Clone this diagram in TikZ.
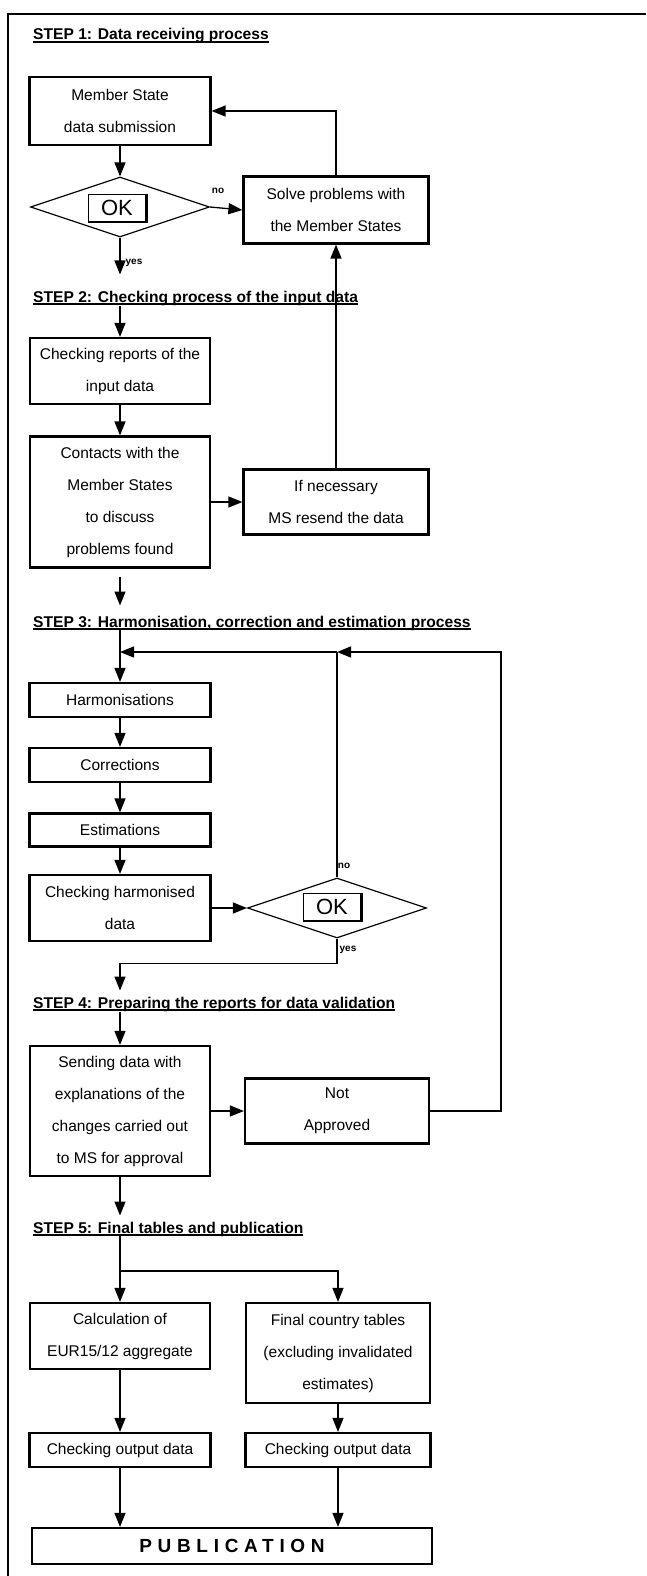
\documentclass[tikz,border=0pt]{standalone}
\usepackage{fontspec}
\setmainfont{Liberation Sans}
\newfontfamily\pubfont[LetterSpace=30]{Liberation Sans}
\usetikzlibrary{shapes.geometric,arrows.meta}
\newsavebox{\hdrbox}
\newcommand{\hdrul}[1]{\sbox{\hdrbox}{#1}\rlap{\usebox{\hdrbox}}\rule[-3pt]{\wd\hdrbox}{1.6pt}}
\begin{document}
\begin{tikzpicture}[x=1pt,y=-1pt,
    box/.style={draw, line width=2.2pt, align=center, inner sep=2pt,
      font=\fontsize{15.5}{32}\selectfont},
    okdia/.style={diamond, draw, line width=1.2pt, minimum width=179pt,
      minimum height=60pt, inner sep=0pt},
    okbtn/.style={draw, line width=1pt, minimum width=58pt, minimum height=27pt,
      inner sep=0pt, font=\fontsize{22}{22}\selectfont},
    hdr/.style={anchor=base west, inner sep=0pt,
      font=\bfseries\fontsize{15.6}{18}\selectfont},
    lbl/.style={inner sep=0pt, font=\bfseries\fontsize{10}{12}\selectfont},
    arr/.style={line width=1.3pt, -{Triangle[width=11pt,length=14pt]}}]
    \useasboundingbox (0,0) rectangle (646,1576);

    % Frame
    \draw[line width=2pt] (8,1576) -- (8,14) -- (646,14);

    % STEP 1
    \node[hdr] (h1) at (33,40) {\hdrul{STEP 1: Data receiving process}};
    \node[box, minimum width=181pt, minimum height=68pt] (msd) at (120,111) {Member State\\data submission};
    \node[okdia] (ok1) at (120,207) {};
    \node[okbtn] (okb1) at (117,208) {OK};
    \draw[line width=2.6pt] (okb1.north east) -- (okb1.south east) -- (okb1.south west);
    \node[box, minimum width=185pt, minimum height=67pt] (solve) at (336,210) {Solve problems with\\the Member States};
    \node[lbl] (no1) at (218,191) {no};
    \node[lbl] (yes1) at (134,263) {yes};

    % STEP 2
    \node[hdr] (h2) at (33,302) {\hdrul{STEP 2: Checking process of the input data}};
    \node[box, minimum width=180pt, minimum height=66pt] (chk) at (120,371) {Checking reports of the\\input data};
    \node[box, minimum width=180pt, minimum height=131pt] (contact) at (120,502) {Contacts with the\\Member States\\to discuss\\problems found};
    \node[box, minimum width=185pt, minimum height=65pt] (resend) at (336,502) {If necessary\\MS resend the data};

    % STEP 3
    \node[hdr] (h3) at (33,627) {\hdrul{STEP 3: Harmonisation, correction and estimation process}};
    \node[box, minimum width=181pt, minimum height=34pt] (harm) at (120,700) {Harmonisations};
    \node[box, minimum width=181pt, minimum height=34pt] (corr) at (120,765) {Corrections};
    \node[box, minimum width=181pt, minimum height=33pt] (est) at (120,830) {Estimations};
    \node[box, minimum width=181pt, minimum height=66pt] (chkh) at (120,908) {Checking harmonised\\data};
    \node[okdia] (ok2) at (337,908) {};
    \node[okbtn] (okb2) at (332,907) {OK};
    \draw[line width=2.6pt] (okb2.north east) -- (okb2.south east) -- (okb2.south west);
    \node[lbl] (no2) at (344,866) {no};
    \node[lbl] (yes2) at (348,950) {yes};
    \coordinate (jn1) at (120,652);
    \coordinate (jn2) at (337,652);

    % STEP 4
    \node[hdr] (h4) at (33,1008) {\hdrul{STEP 4: Preparing the reports for data validation}};
    \node[box, minimum width=180pt, minimum height=130pt] (send) at (120,1111) {Sending data with\\explanations of the\\changes carried out\\to MS for approval};
    \node[box, minimum width=184pt, minimum height=65pt] (notapp) at (337,1111) {Not\\Approved};

    % STEP 5
    \node[hdr] (h5) at (33,1233) {\hdrul{STEP 5: Final tables and publication}};
    \coordinate (sp) at (120,1271);
    \node[box, minimum width=180pt, minimum height=66pt] (calc) at (120,1336) {Calculation of\\EUR15/12 aggregate};
    \node[box, minimum width=184pt, minimum height=100pt] (final) at (338,1353) {Final country tables\\(excluding invalidated\\estimates)};
    \node[box, minimum width=181pt, minimum height=34pt] (out1) at (120,1450) {Checking output data};
    \node[box, minimum width=185pt, minimum height=34pt] (out2) at (338,1450) {Checking output data};
    \node[box, minimum width=400pt, minimum height=36pt] (pub) at (232,1546) {\pubfont\bfseries\fontsize{19}{22}\selectfont PUBLICATION};

    % Connecting lines, step 1 and 2
    \draw[arr] (msd.south) -- (ok1.north);
    \draw[arr] (ok1.east) -- (solve.west);
    \draw[arr] (solve.north) |- (msd.east);
    \draw[arr, shorten >=16pt] (ok1.south) -- (ok1.south |- h2.north);
    \draw[arr] (chk.north |- h2.south) -- (chk.north);
    \draw[arr] (chk.south) -- (contact.north);
    \draw[arr] (contact.east) -- (resend.west);
    \draw[arr] (resend.north) -- (solve.south);
    \draw[arr, shorten <=8pt, shorten >=10pt] (contact.south) -- (contact.south |- h3.north);

    % Connecting lines, step 3
    \draw[arr] (harm.north |- h3.south) -- (harm.north);
    \draw[arr] (jn2) -- (jn1);
    \draw[line width=1.3pt] (ok2.north) -- (jn2);
    \draw[arr] (notapp.east) -- ++(71,0) |- (jn2);
    \draw[arr] (harm.south) -- (corr.north);
    \draw[arr] (corr.south) -- (est.north);
    \draw[arr] (est.south) -- (chkh.north);
    \draw[arr] (chkh.east) -- (ok2.west);
    \draw[arr, shorten >=6pt] (ok2.south) -- ++(0,25) -| (send.north |- h4.north);

    % Connecting lines, step 4 and 5
    \draw[arr] (send.north |- h4.south) -- (send.north);
    \draw[arr] (send.east) -- (notapp.west);
    \draw[arr, shorten >=6pt] (send.south) -- (send.south |- h5.north);
    \draw[arr] (calc.north |- h5.south) -- (calc.north);
    \draw[arr] (sp) -| (final.north);
    \draw[arr] (calc.south) -- (out1.north);
    \draw[arr] (final.south) -- (out2.north);
    \draw[arr] (out1.south) -- (out1.south |- pub.north);
    \draw[arr] (out2.south) -- (out2.south |- pub.north);
\end{tikzpicture}
\end{document}
